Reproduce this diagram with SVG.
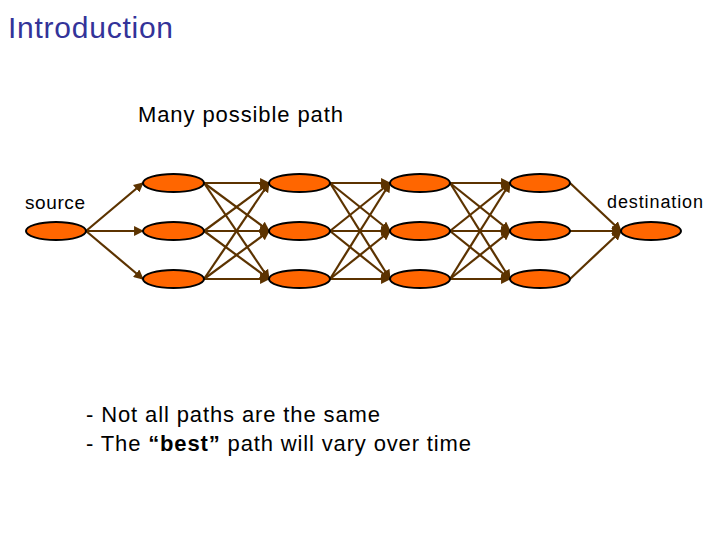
<svg xmlns="http://www.w3.org/2000/svg" width="720" height="540" viewBox="0 0 720 540">
<style>
.t{font-family:"Liberation Sans",Arial,sans-serif;fill:#000}
.n{fill:#FF6600;stroke:#000;stroke-width:2}
.e{stroke:#5C3300;stroke-width:2.2;fill:none;marker-end:url(#a)}
</style>
<defs>
<marker id="a" viewBox="0 0 10 10" refX="9" refY="5" markerWidth="4.5" markerHeight="4.5" orient="auto" markerUnits="strokeWidth">
<path d="M0,0 L10,5 L0,10 z" fill="#5C3300"/>
</marker>
</defs>
<rect width="720" height="540" fill="#fff"/>
<text class="t" x="8" y="38" font-size="30" style="fill:#333399" textLength="165">Introduction</text>
<text class="t" x="138" y="122" font-size="22" textLength="205">Many possible path</text>
<text class="t" x="25" y="209" font-size="19" textLength="60">source</text>
<text class="t" x="607" y="208" font-size="18" textLength="96">destination</text>
<text class="t" x="86" y="422" font-size="22" textLength="294">- Not all paths are the same</text>
<text class="t" x="86" y="451" font-size="22" textLength="385">- The <tspan font-weight="bold">“best”</tspan> path will vary over time</text>
<g id="connectors">
<path class="e" d="M86,231 L143,183"/><path class="e" d="M86,231 L143,231"/><path class="e" d="M86,231 L143,279"/>
<path class="e" d="M204,183 L269,183"/><path class="e" d="M204,183 L269,231"/><path class="e" d="M204,183 L269,279"/>
<path class="e" d="M204,231 L269,183"/><path class="e" d="M204,231 L269,231"/><path class="e" d="M204,231 L269,279"/>
<path class="e" d="M204,279 L269,183"/><path class="e" d="M204,279 L269,231"/><path class="e" d="M204,279 L269,279"/>
<path class="e" d="M330,183 L390,183"/><path class="e" d="M330,183 L390,231"/><path class="e" d="M330,183 L390,279"/>
<path class="e" d="M330,231 L390,183"/><path class="e" d="M330,231 L390,231"/><path class="e" d="M330,231 L390,279"/>
<path class="e" d="M330,279 L390,183"/><path class="e" d="M330,279 L390,231"/><path class="e" d="M330,279 L390,279"/>
<path class="e" d="M450,183 L510,183"/><path class="e" d="M450,183 L510,231"/><path class="e" d="M450,183 L510,279"/>
<path class="e" d="M450,231 L510,183"/><path class="e" d="M450,231 L510,231"/><path class="e" d="M450,231 L510,279"/>
<path class="e" d="M450,279 L510,183"/><path class="e" d="M450,279 L510,231"/><path class="e" d="M450,279 L510,279"/>
<path class="e" d="M570,183 L621,231"/><path class="e" d="M570,231 L621,231"/><path class="e" d="M570,279 L621,231"/>
</g>
<g id="source"><ellipse class="n" cx="56" cy="231" rx="30" ry="9"/></g>
<g id="n1a"><ellipse class="n" cx="173.5" cy="183" rx="30.5" ry="9"/></g>
<g id="n1b"><ellipse class="n" cx="173.5" cy="231" rx="30.5" ry="9"/></g>
<g id="n1c"><ellipse class="n" cx="173.5" cy="279" rx="30.5" ry="9"/></g>
<g id="n2a"><ellipse class="n" cx="299.5" cy="183" rx="30.5" ry="9"/></g>
<g id="n2b"><ellipse class="n" cx="299.5" cy="231" rx="30.5" ry="9"/></g>
<g id="n2c"><ellipse class="n" cx="299.5" cy="279" rx="30.5" ry="9"/></g>
<g id="n3a"><ellipse class="n" cx="420" cy="183" rx="30" ry="9"/></g>
<g id="n3b"><ellipse class="n" cx="420" cy="231" rx="30" ry="9"/></g>
<g id="n3c"><ellipse class="n" cx="420" cy="279" rx="30" ry="9"/></g>
<g id="n4a"><ellipse class="n" cx="540" cy="183" rx="30" ry="9"/></g>
<g id="n4b"><ellipse class="n" cx="540" cy="231" rx="30" ry="9"/></g>
<g id="n4c"><ellipse class="n" cx="540" cy="279" rx="30" ry="9"/></g>
<g id="destination"><ellipse class="n" cx="651" cy="231" rx="30" ry="9"/></g>
</svg>
